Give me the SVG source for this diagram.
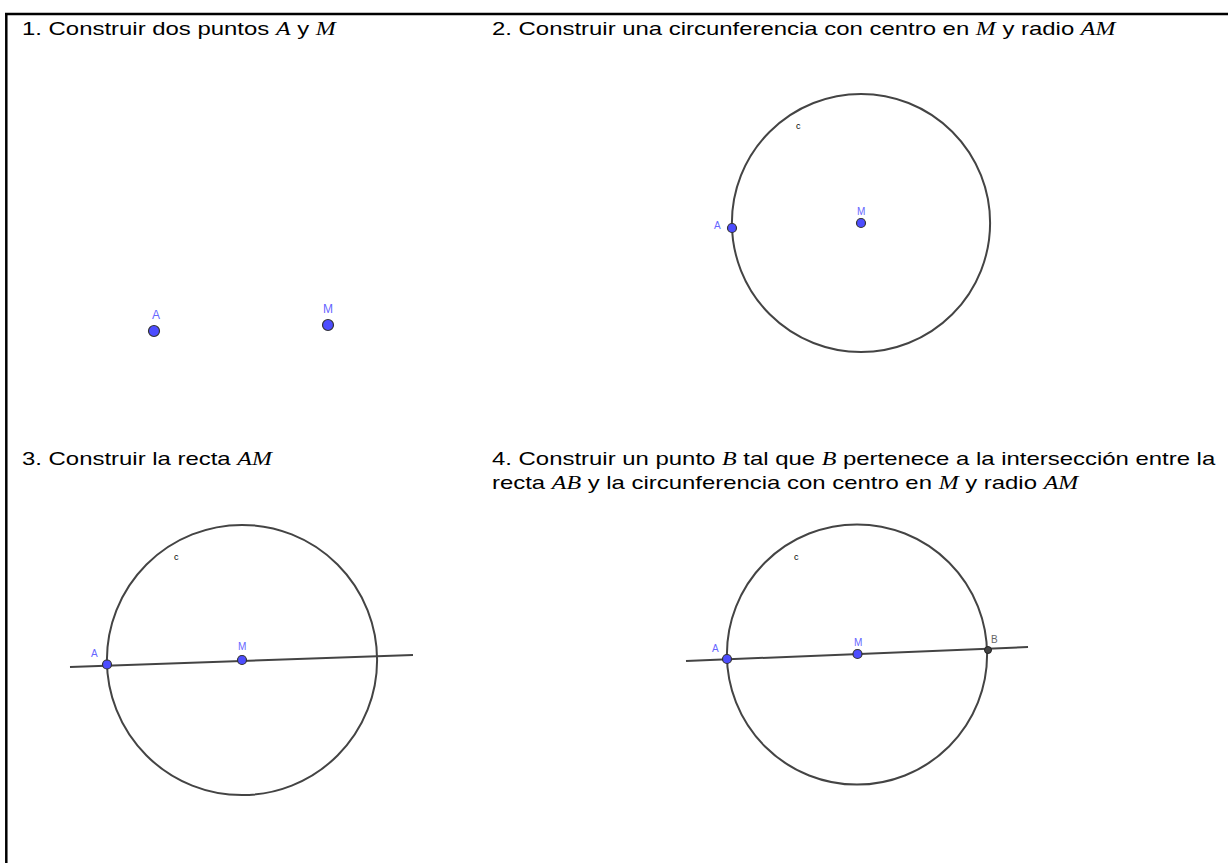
<svg xmlns="http://www.w3.org/2000/svg" width="1228" height="863" viewBox="0 0 1228 863">
<style>
.t{font-family:"Liberation Sans",Arial,sans-serif;font-size:18px;fill:#000}
.m{font-family:"Liberation Serif","Times New Roman",serif;font-style:italic}
.pt{fill:#4d4dff;stroke:#333;stroke-width:1.2}
.ptb{fill:#444;stroke:#222;stroke-width:1}
.lb{font-family:"Liberation Sans",Arial,sans-serif;font-size:10px;fill:#6666ff}
.lb1{font-family:"Liberation Sans",Arial,sans-serif;font-size:12px;fill:#6666ff}
.c{font-family:"Liberation Sans",Arial,sans-serif;font-size:9px;fill:#000}
.obj{fill:none;stroke:#444;stroke-width:2}
</style>
<rect width="1228" height="863" fill="#fff"/>
<g id="border">
<line x1="5" y1="14" x2="1228" y2="14" stroke="#000" stroke-width="2.5"/>
<line x1="6.3" y1="13" x2="6.3" y2="863" stroke="#000" stroke-width="2.5"/>
</g>
<g id="texts">
<text class="t" transform="translate(22,35) scale(1.33,1)">1. Construir dos puntos <tspan class="m">A</tspan> y <tspan class="m">M</tspan></text>
<text class="t" transform="translate(492,35) scale(1.33,1)">2. Construir una circunferencia con centro en <tspan class="m">M</tspan> y radio <tspan class="m">AM</tspan></text>
<text class="t" transform="translate(22,465) scale(1.33,1)">3. Construir la recta <tspan class="m">AM</tspan></text>
<text class="t" transform="translate(492,465) scale(1.33,1)">4. Construir un punto <tspan class="m">B</tspan> tal que <tspan class="m">B</tspan> pertenece a la intersección entre la</text>
<text class="t" transform="translate(492,489) scale(1.33,1)">recta <tspan class="m">AB</tspan> y la circunferencia con centro en <tspan class="m">M</tspan> y radio <tspan class="m">AM</tspan></text>
</g>
<g id="panel1">
<circle class="pt" cx="154" cy="331" r="5.5"/>
<text class="lb1" x="152" y="319">A</text>
<circle class="pt" cx="328" cy="325" r="5.5"/>
<text class="lb1" x="323" y="313">M</text>
</g>
<g id="panel2">
<circle class="obj" cx="861" cy="223" r="129.1"/>
<text class="c" x="796" y="129">c</text>
<circle class="pt" cx="732" cy="228" r="4.5"/>
<text class="lb" x="714" y="229">A</text>
<circle class="pt" cx="861" cy="223" r="4.5"/>
<text class="lb" x="857" y="215">M</text>
</g>
<g id="panel3">
<circle class="obj" cx="242" cy="660" r="135.1"/>
<line class="obj" x1="70" y1="667" x2="413" y2="655"/>
<text class="c" x="174" y="560">c</text>
<circle class="pt" cx="107" cy="664.5" r="4.5"/>
<text class="lb" x="91" y="657">A</text>
<circle class="pt" cx="242" cy="660" r="4.5"/>
<text class="lb" x="238" y="650">M</text>
</g>
<g id="panel4">
<circle class="obj" cx="857" cy="654.5" r="130.1"/>
<line class="obj" x1="686" y1="661" x2="1028" y2="647"/>
<text class="c" x="794" y="560">c</text>
<circle class="pt" cx="727" cy="659" r="4.5"/>
<text class="lb" x="712" y="652">A</text>
<circle class="pt" cx="857.5" cy="654" r="4.5"/>
<text class="lb" x="854" y="645.5">M</text>
<circle class="ptb" cx="988" cy="650" r="3.5"/>
<text class="lb" x="991" y="643" style="fill:#666">B</text>
</g>
</svg>
